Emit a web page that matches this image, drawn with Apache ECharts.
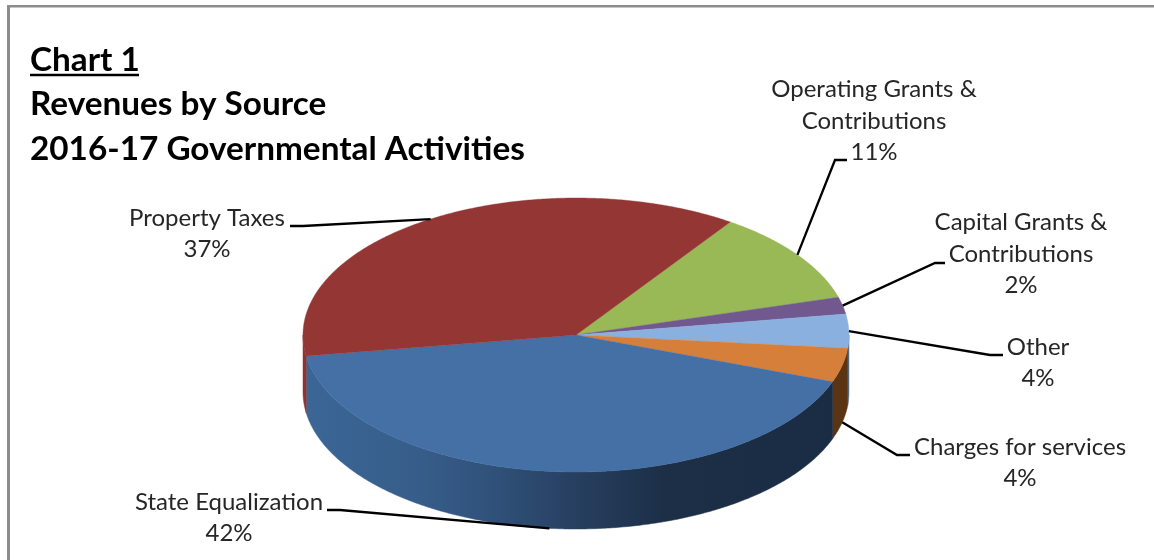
<!DOCTYPE html>
<html>
<head>
<meta charset="utf-8">
<style>html,body{margin:0;padding:0;background:#fff}#chart{width:1154px;height:560px}</style>
<script src="https://cdn.jsdelivr.net/npm/echarts@6/dist/echarts.min.js"></script>
</head>
<body>
<div id="chart"></div>
<script>
// Revenue sources, clockwise from the top of the pie
const categories = ['Operating Grants &\nContributions', 'Capital Grants &\nContributions', 'Other', 'Charges for services', 'State Equalization', 'Property Taxes'];
const shares = [11, 2, 4, 4, 42, 37];
const titleLines = ['Chart 1', 'Revenues by Source', '2016-17 Governmental Activities'];

// Slice colours
const topColors = ['#98B955', '#71588F', '#8AB0DF', '#D67F3A', '#4470A6', '#933634'];
const plainWallColors = ['#5F7530', '#46365A', '#55708F', '#5A3413', null, '#8E3533'];

// Pie geometry: an ellipse lying flat, with a wall below its front half
const pie = { cx: 576, cy: 335, rx: 273, ry: 137, depth: 57, startDeg: -55.6 };
const labelFont = '24px Lato, sans-serif';

// Label centres and leader elbows
const labelPos = [[874, 121], [1021, 254], [1038, 363], [1020, 463], [229, 518], [207, 234]];
const elbows = [
  [[835, 160], [847, 160]],
  [[935, 263], [945, 263]],
  [[990, 355], [1003, 355]],
  [[897, 455], [910, 455]],
  [[340, 510], [327, 510]],
  [[303, 226], [290, 226]]
];

const total = shares.reduce((a, b) => a + b, 0);
const ranges = [];
shares.reduce((acc, v) => {
  const end = acc + v / total * 360;
  ranges.push([acc, end]);
  return end;
}, pie.startDeg);

function rimPoint(deg, drop) {
  const t = deg * Math.PI / 180;
  return [pie.cx + pie.rx * Math.cos(t), pie.cy + pie.ry * Math.sin(t) + (drop || 0)];
}
function arc(from, to, drop) {
  const n = Math.max(2, Math.ceil(Math.abs(to - from) * 2));
  const pts = [];
  for (let i = 0; i <= n; i++) pts.push(rimPoint(from + (to - from) * i / n, drop));
  return pts;
}
// Visible stretch of a slice's rim: the front half of the ellipse, in any turn
function frontRange(a, b) {
  const out = [];
  [0, 360, -360].forEach(k => {
    const lo = Math.max(a, k), hi = Math.min(b, k + 180);
    if (hi > lo) out.push([lo, hi]);
  });
  return out;
}

const blueWall = {
  type: 'linear', x: pie.cx - pie.rx, y: 0, x2: pie.cx + pie.rx, y2: 0, global: true,
  colorStops: [
    { offset: 0, color: '#3B6696' },
    { offset: 0.2, color: '#375E8B' },
    { offset: 0.36, color: '#2F5078' },
    { offset: 0.5, color: '#273F60' },
    { offset: 0.66, color: '#1C2F47' },
    { offset: 1, color: '#1A2C43' }
  ]
};

const sliceData = shares.map((v, i) => ({ name: categories[i], value: [v, i] }));

function renderWall(params, api) {
  const i = api.value(1);
  const fill = plainWallColors[i] || blueWall;
  const parts = frontRange(ranges[i][0], ranges[i][1]).map(r => ({
    type: 'polygon',
    shape: { points: arc(r[0], r[1], 0).concat(arc(r[1], r[0], pie.depth)) },
    style: { fill: fill, stroke: fill, lineWidth: 0.5 }
  }));
  return { type: 'group', children: parts };
}

function renderTop(params, api) {
  const i = api.value(1);
  return {
    type: 'polygon',
    shape: { points: [[pie.cx, pie.cy]].concat(arc(ranges[i][0], ranges[i][1], 0)) },
    style: { fill: topColors[i], stroke: topColors[i], lineWidth: 0.4 }
  };
}

function renderLabel(params, api) {
  const i = api.value(1);
  const mid = (ranges[i][0] + ranges[i][1]) / 2;
  const onFront = frontRange(mid, mid + 0.001).length > 0 && i !== 2;
  const start = rimPoint(mid, onFront ? pie.depth : 0);
  return {
    type: 'group',
    children: [
      {
        type: 'polyline',
        shape: { points: [start].concat(elbows[i]) },
        style: { fill: 'none', stroke: '#000', lineWidth: 2.3 }
      },
      {
        type: 'text',
        x: labelPos[i][0],
        y: labelPos[i][1],
        style: {
          text: categories[i] + '\n' + api.value(0) + '%',
          font: labelFont,
          lineHeight: 31.5,
          align: 'center',
          verticalAlign: 'middle',
          fill: '#262626'
        }
      }
    ]
  };
}

const chart = echarts.init(document.getElementById('chart'), null, { renderer: 'canvas' });
chart.setOption({
  animation: false,
  backgroundColor: '#fff',
  title: {
    text: titleLines.join('\n'),
    left: 30,
    top: 38,
    padding: 0,
    textStyle: { fontFamily: 'Lato, sans-serif', fontSize: 33.3, fontWeight: 'bold', color: '#000', lineHeight: 44.5 }
  },
  graphic: [
    { type: 'line', shape: { x1: 8.5, y1: 5, x2: 8.5, y2: 560 }, style: { stroke: '#8C8C8C', lineWidth: 3 } },
    { type: 'line', shape: { x1: 7, y1: 6.2, x2: 1154, y2: 6.2 }, style: { stroke: '#8C8C8C', lineWidth: 2.4 } },
    { type: 'line', shape: { x1: 30, y1: 75, x2: 139, y2: 75 }, style: { stroke: '#000', lineWidth: 2.4 } }
  ],
  series: [
    { type: 'custom', name: 'Wall', coordinateSystem: 'none', z: 1, silent: true, data: sliceData, renderItem: renderWall },
    { type: 'custom', name: 'Top', coordinateSystem: 'none', z: 2, silent: true, data: sliceData, renderItem: renderTop },
    { type: 'custom', name: 'Labels', coordinateSystem: 'none', z: 3, silent: true, data: sliceData, renderItem: renderLabel }
  ]
});
</script>
</body>
</html>
